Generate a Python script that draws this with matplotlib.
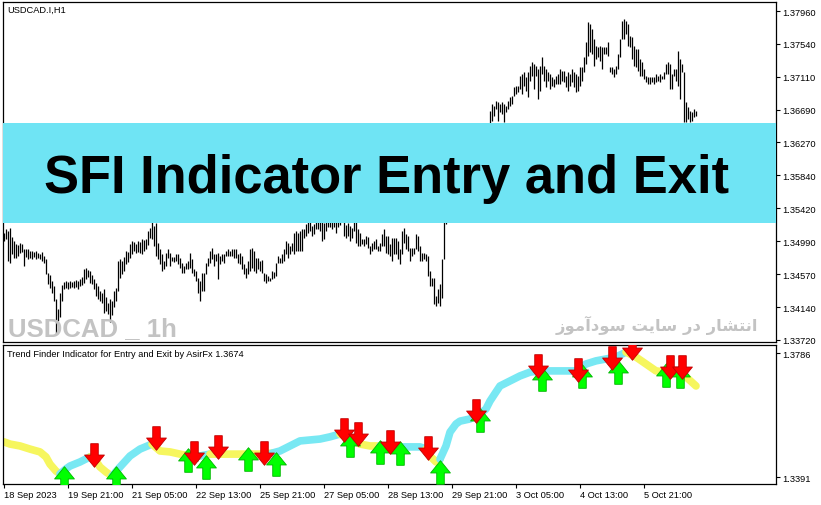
import matplotlib.pyplot as plt
import numpy as np
from matplotlib.path import Path
from matplotlib.patches import Rectangle

plt.rcParams['font.family'] = ['Liberation Sans', 'DejaVu Sans']

# USDCAD H1 bars, high / low per bar (left to right)
highs = [
    1.3510, 1.3515, 1.3512, 1.3516, 1.3505, 1.3500, 1.3496, 1.3494, 1.3497, 1.3496, 1.3489, 1.3489, 1.3489, 1.3487, 1.3487, 1.3485, 1.3487, 1.3484, 1.3483, 1.3485, 1.3480,
    1.3476, 1.3458, 1.3456, 1.3448, 1.3442, 1.3425, 1.3412, 1.3433, 1.3443, 1.3447, 1.3448, 1.3447, 1.3448, 1.3447, 1.3448, 1.3449, 1.3448, 1.3451, 1.3453, 1.3463, 1.3465,
    1.3462, 1.3461, 1.3456, 1.3451, 1.3445, 1.3442, 1.3435, 1.3433, 1.3438, 1.3427, 1.3420, 1.3425, 1.3422, 1.3435, 1.3439, 1.3474, 1.3476, 1.3474, 1.3479, 1.3487, 1.3485,
    1.3496, 1.3500, 1.3498, 1.3496, 1.3500, 1.3498, 1.3502, 1.3501, 1.3502, 1.3512, 1.3516, 1.3524, 1.3519, 1.3523, 1.3497, 1.3489, 1.3483, 1.3474, 1.3484, 1.3489, 1.3484,
    1.3479, 1.3479, 1.3483, 1.3483, 1.3478, 1.3471, 1.3467, 1.3471, 1.3474, 1.3484, 1.3476, 1.3463, 1.3461, 1.3452, 1.3448, 1.3458, 1.3458, 1.3471, 1.3478, 1.3487, 1.3491,
    1.3483, 1.3483, 1.3484, 1.3480, 1.3483, 1.3483, 1.3487, 1.3489, 1.3487, 1.3489, 1.3489, 1.3489, 1.3483, 1.3484, 1.3480, 1.3470, 1.3465, 1.3474, 1.3489, 1.3491, 1.3487,
    1.3478, 1.3478, 1.3474, 1.3475, 1.3458, 1.3457, 1.3454, 1.3452, 1.3461, 1.3460, 1.3471, 1.3480, 1.3478, 1.3483, 1.3489, 1.3500, 1.3497, 1.3493, 1.3497, 1.3510, 1.3512,
    1.3510, 1.3512, 1.3515, 1.3515, 1.3521, 1.3525, 1.3528, 1.3519, 1.3521, 1.3530, 1.3533, 1.3530, 1.3525, 1.3523, 1.3530, 1.3534, 1.3536, 1.3533, 1.3536, 1.3528, 1.3533,
    1.3538, 1.3541, 1.3525, 1.3520, 1.3523, 1.3519, 1.3516, 1.3528, 1.3525, 1.3515, 1.3510, 1.3502, 1.3502, 1.3506, 1.3505, 1.3493, 1.3497, 1.3500, 1.3502, 1.3493, 1.3497,
    1.3509, 1.3515, 1.3506, 1.3506, 1.3496, 1.3503, 1.3503, 1.3503, 1.3500, 1.3489, 1.3512, 1.3516, 1.3509, 1.3506, 1.3491, 1.3491, 1.3491, 1.3509, 1.3506, 1.3493, 1.3484,
    1.3484, 1.3483, 1.3480, 1.3461, 1.3452, 1.3452, 1.3429, 1.3438, 1.3444, 1.3476, 1.3554, 1.3579,
    1.3592, 1.3605, 1.3618, 1.3625, 1.3631, 1.3625, 1.3631, 1.3637, 1.3634, 1.3631, 1.3637, 1.3641, 1.3637, 1.3644, 1.3647, 1.3641, 1.3644, 1.3647, 1.3647, 1.3648, 1.3650,
    1.3667, 1.3676, 1.3674, 1.3680, 1.3679, 1.3676, 1.3679, 1.3676, 1.3674, 1.3680, 1.3685, 1.3686, 1.3698, 1.3699, 1.3699, 1.3712, 1.3715, 1.3717, 1.3711, 1.3717, 1.3725,
    1.3730, 1.3728, 1.3725, 1.3721, 1.3725, 1.3737, 1.3725, 1.3721, 1.3717, 1.3715, 1.3711, 1.3708, 1.3712, 1.3715, 1.3721, 1.3719, 1.3719, 1.3712, 1.3717, 1.3715, 1.3721,
    1.3717, 1.3715, 1.3712, 1.3724, 1.3724, 1.3737, 1.3756, 1.3782, 1.3779, 1.3773, 1.3760, 1.3751, 1.3750, 1.3751, 1.3750, 1.3750, 1.3750, 1.3756, 1.3724, 1.3724, 1.3721,
    1.3725, 1.3741, 1.3760, 1.3783, 1.3786, 1.3783, 1.3779, 1.3764, 1.3763, 1.3751, 1.3747, 1.3747, 1.3734, 1.3730, 1.3721, 1.3712, 1.3711, 1.3711, 1.3711, 1.3711, 1.3715,
    1.3712, 1.3715, 1.3712, 1.3717, 1.3728, 1.3730, 1.3728, 1.3715, 1.3721, 1.3721, 1.3744, 1.3734, 1.3728, 1.3717, 1.3679, 1.3672, 1.3667, 1.3666, 1.3670, 1.3667,
]
lows = [
    1.3500, 1.3502, 1.3474, 1.3471, 1.3483, 1.3478, 1.3478, 1.3480, 1.3484, 1.3485, 1.3467, 1.3479, 1.3476, 1.3478, 1.3476, 1.3479, 1.3476, 1.3478, 1.3476, 1.3474, 1.3471,
    1.3457, 1.3444, 1.3439, 1.3433, 1.3422, 1.3380, 1.3396, 1.3402, 1.3422, 1.3438, 1.3439, 1.3438, 1.3439, 1.3440, 1.3439, 1.3440, 1.3438, 1.3442, 1.3443, 1.3445, 1.3451,
    1.3453, 1.3445, 1.3444, 1.3438, 1.3429, 1.3425, 1.3422, 1.3420, 1.3407, 1.3409, 1.3405, 1.3395, 1.3404, 1.3414, 1.3422, 1.3435, 1.3452, 1.3457, 1.3461, 1.3470, 1.3472,
    1.3478, 1.3483, 1.3487, 1.3484, 1.3485, 1.3484, 1.3483, 1.3487, 1.3489, 1.3494, 1.3503, 1.3502, 1.3493, 1.3480, 1.3476, 1.3470, 1.3461, 1.3463, 1.3467, 1.3478, 1.3467,
    1.3474, 1.3472, 1.3474, 1.3470, 1.3465, 1.3458, 1.3458, 1.3463, 1.3463, 1.3465, 1.3458, 1.3454, 1.3448, 1.3433, 1.3422, 1.3435, 1.3435, 1.3457, 1.3467, 1.3471, 1.3476,
    1.3467, 1.3474, 1.3451, 1.3470, 1.3474, 1.3471, 1.3480, 1.3480, 1.3480, 1.3480, 1.3478, 1.3478, 1.3471, 1.3470, 1.3463, 1.3457, 1.3452, 1.3457, 1.3461, 1.3465, 1.3461,
    1.3458, 1.3463, 1.3461, 1.3458, 1.3448, 1.3445, 1.3448, 1.3448, 1.3451, 1.3452, 1.3454, 1.3471, 1.3471, 1.3471, 1.3474, 1.3483, 1.3478, 1.3483, 1.3487, 1.3483, 1.3487,
    1.3487, 1.3487, 1.3487, 1.3503, 1.3506, 1.3510, 1.3512, 1.3506, 1.3509, 1.3515, 1.3515, 1.3512, 1.3500, 1.3502, 1.3512, 1.3518, 1.3518, 1.3515, 1.3518, 1.3510, 1.3518,
    1.3520, 1.3525, 1.3506, 1.3503, 1.3506, 1.3500, 1.3503, 1.3512, 1.3497, 1.3493, 1.3493, 1.3496, 1.3493, 1.3496, 1.3491, 1.3483, 1.3487, 1.3489, 1.3489, 1.3487, 1.3487,
    1.3493, 1.3493, 1.3484, 1.3483, 1.3480, 1.3474, 1.3483, 1.3483, 1.3476, 1.3470, 1.3483, 1.3497, 1.3489, 1.3487, 1.3474, 1.3480, 1.3483, 1.3489, 1.3487, 1.3474, 1.3474,
    1.3476, 1.3474, 1.3454, 1.3442, 1.3442, 1.3418, 1.3416, 1.3420, 1.3416, 1.3426, 1.3476, 1.3521,
    1.3554, 1.3573, 1.3586, 1.3595, 1.3599, 1.3592, 1.3605, 1.3608, 1.3605, 1.3603, 1.3612, 1.3616, 1.3612, 1.3618, 1.3621, 1.3618, 1.3623, 1.3625, 1.3628, 1.3630, 1.3634,
    1.3650, 1.3654, 1.3661, 1.3670, 1.3654, 1.3666, 1.3663, 1.3653, 1.3666, 1.3670, 1.3674, 1.3676, 1.3686, 1.3689, 1.3692, 1.3695, 1.3689, 1.3699, 1.3693, 1.3685, 1.3706,
    1.3712, 1.3695, 1.3712, 1.3683, 1.3693, 1.3715, 1.3706, 1.3698, 1.3706, 1.3695, 1.3699, 1.3698, 1.3702, 1.3702, 1.3702, 1.3706, 1.3705, 1.3698, 1.3693, 1.3699, 1.3705,
    1.3698, 1.3692, 1.3693, 1.3699, 1.3706, 1.3717, 1.3728, 1.3738, 1.3743, 1.3741, 1.3725, 1.3734, 1.3737, 1.3732, 1.3721, 1.3741, 1.3741, 1.3738, 1.3717, 1.3715, 1.3711,
    1.3715, 1.3721, 1.3737, 1.3760, 1.3760, 1.3766, 1.3751, 1.3750, 1.3734, 1.3725, 1.3724, 1.3719, 1.3712, 1.3712, 1.3708, 1.3705, 1.3702, 1.3702, 1.3705, 1.3702, 1.3705,
    1.3706, 1.3705, 1.3708, 1.3708, 1.3715, 1.3715, 1.3695, 1.3695, 1.3712, 1.3706, 1.3699, 1.3683, 1.3717, 1.3653, 1.3653, 1.3657, 1.3653, 1.3654, 1.3659, 1.3661,
]

price_ticks = [1.37960, 1.37540, 1.37110, 1.36690, 1.36270, 1.35840, 1.35420, 1.34990, 1.34570, 1.34140, 1.33720]
date_labels = ['18 Sep 2023', '19 Sep 21:00', '21 Sep 05:00', '22 Sep 13:00', '25 Sep 21:00', '27 Sep 05:00',
               '28 Sep 13:00', '29 Sep 21:00', '3 Oct 05:00', '4 Oct 13:00', '5 Oct 21:00']

# trend finder line: bar index, value, 1 = up (cyan) / 0 = down (yellow)
ind_idx = [0, 3, 8, 13, 18, 21, 23, 26, 28, 31, 33, 38, 43, 46, 48, 51, 54, 58, 63, 68, 74, 78, 83, 88, 93, 98,
           103, 108, 118, 128, 134, 138, 143, 148, 158, 163, 168, 173, 178, 183, 188, 198, 208, 211, 213, 216,
           218, 221, 223, 226, 228, 233, 238, 241, 243, 246, 248, 253, 258, 263, 268, 278, 286, 291, 296, 301,
           306, 311, 316, 321, 326, 331, 336, 341, 346]
ind_val = [1.3503, 1.3496, 1.3490, 1.3480, 1.3471, 1.3455, 1.3432, 1.3410, 1.3401, 1.3417, 1.3426, 1.3439, 1.3455,
           1.3442, 1.3423, 1.3407, 1.3394, 1.3423, 1.3458, 1.3480, 1.3496, 1.3474, 1.3471, 1.3464, 1.3458, 1.3458,
           1.3464, 1.3464, 1.3464, 1.3464, 1.3467, 1.3474, 1.3490, 1.3506, 1.3512, 1.3519, 1.3528, 1.3512, 1.3496,
           1.3490, 1.3490, 1.3487, 1.3487, 1.3480, 1.3458, 1.3439, 1.3448, 1.3490, 1.3534, 1.3560, 1.3569, 1.3576,
           1.3592, 1.3608, 1.3633, 1.3662, 1.3681, 1.3697, 1.3713, 1.3725, 1.3729, 1.3729, 1.3729, 1.3751, 1.3761,
           1.3767, 1.3773, 1.3789, 1.3773, 1.3751, 1.3729, 1.3725, 1.3725, 1.3710, 1.3681]
ind_up = [0, 0, 0, 0, 0, 0, 0, 0, 1, 1, 1, 1, 0, 0, 0, 0, 1, 1, 1, 1, 0, 0, 0, 0, 0, 1,
          0, 0, 0, 0, 1, 1, 1, 1, 1, 1, 0, 0, 0, 0, 1, 1, 1, 0, 0, 0,
          1, 1, 1, 1, 1, 1, 1, 1, 1, 1, 1, 1, 1, 1, 1, 1, 1, 1, 1, 1,
          1, 0, 0, 0, 0, 0, 0, 0, 0]

sell_idx = [45, 76, 95, 107, 130, 170, 177, 193, 212, 236, 267, 287, 304, 314, 333, 339]
sell_val = [1.3460, 1.3515, 1.3469, 1.3487, 1.3469, 1.3541, 1.3528, 1.3504, 1.3483, 1.3600, 1.3745, 1.3733,
            1.3770, 1.3802, 1.3743, 1.3743]
buy_idx = [30, 56, 92, 101, 122, 136, 173, 188, 198, 218, 238, 269, 289, 307, 331, 338]
buy_val = [1.3388, 1.3388, 1.3445, 1.3423, 1.3448, 1.3433, 1.3493, 1.3472, 1.3468, 1.3407, 1.3573, 1.3702,
           1.3714, 1.3727, 1.3716, 1.3714]

W, H = 821, 506
fig = plt.figure(figsize=(W / 100, H / 100), dpi=100)
ax1 = fig.add_axes([3 / W, 1 - 343 / H, 772.5 / W, 340 / H])
ax2 = fig.add_axes([3 / W, 1 - 485 / H, 772.5 / W, 139.5 / H])

x = np.arange(len(highs))
ax1.vlines(x, lows, highs, color='black', linewidth=0.9)
ax1.set_xlim(-0.5, 385.75)
ax1.set_ylim(1.33694, 1.38076)
ax1.set_xticks([])
ax1.yaxis.tick_right()
ax1.set_yticks(price_ticks)
ax1.set_yticklabels(['%.5f' % p for p in price_ticks])

# banner over the price chart
ax1.add_patch(Rectangle((0, (343 - 224) / 340), 1, 100 / 340, transform=ax1.transAxes,
                        facecolor='#6fe4f4', edgecolor='none', zorder=5))

# indicator band
cols = {0: '#f6f65e', 1: '#78e8f3'}
n = len(ind_idx)
start = 0
for k in range(1, n):
    if k == n - 1 or ind_up[k] != ind_up[start]:
        ax2.plot(ind_idx[start:k + 1], ind_val[start:k + 1], color=cols[ind_up[start]],
                 lw=5.5, solid_capstyle='round', solid_joinstyle='round', zorder=2)
        start = k


def arrow_path(down=True):
    v = [(-0.16, 0.5), (0.16, 0.5), (0.16, 0.02), (0.42, 0.02), (0, -0.5), (-0.42, 0.02), (-0.16, 0.02), (-0.16, 0.5)]
    if not down:
        v = [(a, -b) for a, b in v]
    return Path(v, closed=True)


ax2.plot(buy_idx, buy_val, ls='none', marker=arrow_path(False), markersize=17,
         markerfacecolor='#00ff00', markeredgecolor='#00b400', markeredgewidth=0.6, zorder=3)
ax2.plot(sell_idx, sell_val, ls='none', marker=arrow_path(True), markersize=17,
         markerfacecolor='#ff0000', markeredgecolor='#c00000', markeredgewidth=0.6, zorder=4)

ax2.set_xlim(-0.5, 385.75)
ax2.set_ylim(1.33688, 1.38131)
ax2.yaxis.tick_right()
ax2.set_yticks([1.3786, 1.3391])
ax2.set_yticklabels(['1.3786', '1.3391'])
ax2.set_xticks(np.arange(len(date_labels)) * 32)
ax2.set_xticklabels(date_labels, ha='left')

for ax in (ax1, ax2):
    for s in ax.spines.values():
        s.set_linewidth(0.9)
        s.set_color('black')
    ax.tick_params(axis='both', length=3, width=0.8, labelsize=6.7, pad=1.5, colors='black')

fig.text(7 / W, 1 - 10 / H, 'USDCAD.I,H1', fontsize=6.7, va='center')
fig.text(7 / W, 1 - 355 / H, 'Trend Finder Indicator for Entry and Exit by AsirFx 1.3674', fontsize=6.7, va='center')
fig.text(386.5 / W, 1 - 193 / H, 'SFI Indicator Entry and Exit', fontsize=37.8, fontweight='bold',
         ha='center', va='baseline', zorder=10)
fig.text(8 / W, 1 - 336 / H, 'USDCAD _ 1h', fontsize=18.5, fontweight='bold', color='#c3c3c3',
         va='baseline')
fa = '\ufeaf\ufeee\ufee3\ufe81\ufea9\ufeee\ufeb3 \ufe96\ufbfe\ufe8e\ufeb3 \ufead\ufea9 \ufead\ufe8e\ufeb8\ufe98\ufee7\ufe8d'
fig.text(758 / W, 1 - 331 / H, fa, fontsize=11.8, fontweight='bold', color='#c3c3c3',
         family=['DejaVu Sans'], ha='right', va='baseline')

fig.savefig('out.png', dpi=100)
